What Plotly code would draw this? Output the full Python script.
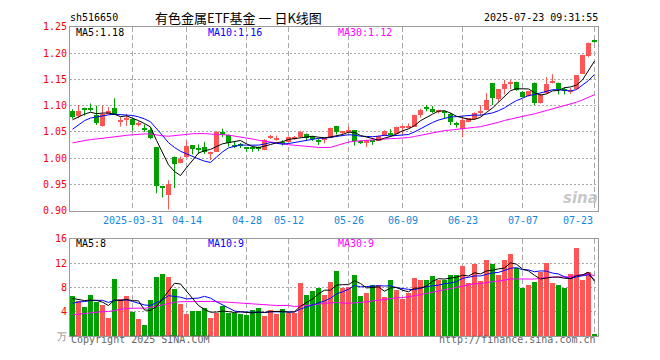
import numpy as np
import plotly.graph_objects as go

# ---------------- data ----------------
tick_idx = [10, 19, 29, 36, 46, 55, 65, 75, 87]
tick_labels = ["2025-03-31", "04-14", "04-28", "05-12", "05-26", "06-09", "06-23", "07-07", "07-23"]

opens = [1.090, 1.080, 1.0945, 1.0945, 1.082, 1.062, 1.085, 1.095, 1.0695, 1.0745,
         1.075, 1.064, 1.058, 1.054, 1.021, 0.9455, 0.931, 1.003, 0.992, 1.003,
         1.025, 1.0185, 1.021, 1.009, 1.0125, 1.0505, 1.044, 1.026, 1.0245, 1.020,
         1.019, 1.019, 1.016, 1.039, 1.035, 1.032, 1.031, 1.037, 1.041, 1.047,
         1.039, 1.035, 1.035, 1.0395, 1.0615, 1.049, 1.051, 1.0535, 1.032, 1.029,
         1.033, 1.0335, 1.0425, 1.049, 1.046, 1.0595, 1.058, 1.0597, 1.0825, 1.0955,
         1.0947, 1.0885, 1.0885, 1.085, 1.0655, 1.055, 1.070, 1.074, 1.088, 1.092,
         1.1425, 1.113, 1.1315, 1.142, 1.1455, 1.127, 1.118, 1.144, 1.1055, 1.124,
         1.145, 1.1425, 1.131, 1.128, 1.1315, 1.161, 1.195, 1.223]
highs = [1.093, 1.101, 1.096, 1.104, 1.100, 1.100, 1.097, 1.114, 1.078, 1.084,
         1.076, 1.070, 1.064, 1.057, 1.021, 0.9455, 0.958, 1.003, 1.003, 1.033,
         1.025, 1.026, 1.031, 1.012, 1.0515, 1.056, 1.045, 1.031, 1.029, 1.0205,
         1.022, 1.022, 1.036, 1.044, 1.043, 1.034, 1.041, 1.042, 1.052, 1.047,
         1.042, 1.037, 1.036, 1.058, 1.0615, 1.052, 1.060, 1.0535, 1.033, 1.035,
         1.034, 1.043, 1.053, 1.055, 1.060, 1.062, 1.066, 1.0825, 1.094, 1.101,
         1.099, 1.092, 1.090, 1.086, 1.069, 1.078, 1.076, 1.087, 1.101, 1.124,
         1.1425, 1.1315, 1.149, 1.149, 1.1455, 1.1275, 1.128, 1.144, 1.122, 1.154,
         1.160, 1.144, 1.135, 1.133, 1.158, 1.197, 1.220, 1.2255]
lows = [1.075, 1.076, 1.081, 1.089, 1.063, 1.060, 1.084, 1.082, 1.060, 1.0615,
        1.052, 1.060, 1.050, 1.036, 0.933, 0.925, 0.902, 0.943, 0.990, 1.001,
        1.007, 1.008, 1.008, 0.9965, 1.0125, 1.040, 1.022, 1.019, 1.019, 1.012,
        1.012, 1.013, 1.015, 1.0365, 1.033, 1.024, 1.030, 1.035, 1.040, 1.033,
        1.033, 1.025, 1.028, 1.039, 1.045, 1.044, 1.047, 1.024, 1.027, 1.021,
        1.025, 1.033, 1.042, 1.040, 1.045, 1.045, 1.057, 1.059, 1.077, 1.089,
        1.086, 1.085, 1.075, 1.0628, 1.058, 1.0395, 1.068, 1.073, 1.080, 1.091,
        1.101, 1.106, 1.121, 1.131, 1.128, 1.115, 1.117, 1.101, 1.104, 1.122,
        1.142, 1.121, 1.121, 1.122, 1.130, 1.160, 1.192, 1.2195]
closes = [1.078, 1.090, 1.0935, 1.0935, 1.068, 1.084, 1.090, 1.082, 1.0705, 1.0755,
          1.064, 1.065, 1.054, 1.038, 0.948, 0.9445, 0.952, 0.990, 0.9995, 1.023,
          1.018, 1.0175, 1.0125, 1.012, 1.0505, 1.0435, 1.029, 1.021, 1.0235, 1.019,
          1.018, 1.018, 1.034, 1.040, 1.036, 1.028, 1.040, 1.041, 1.051, 1.038,
          1.038, 1.031, 1.036, 1.058, 1.0505, 1.050, 1.052, 1.0335, 1.0295, 1.0345,
          1.032, 1.042, 1.0525, 1.0445, 1.0595, 1.0605, 1.0615, 1.0825, 1.092, 1.0945,
          1.088, 1.0895, 1.0875, 1.069, 1.0645, 1.073, 1.076, 1.086, 1.089, 1.111,
          1.115, 1.1315, 1.141, 1.143, 1.130, 1.117, 1.1275, 1.1045, 1.121, 1.141,
          1.146, 1.1315, 1.130, 1.129, 1.158, 1.196, 1.219, 1.222]
volumes = [6.56, 5.76, 4.8, 6.7, 5.6, 5.1, 3.0, 9.4, 6.2, 6.6,
           4.0, 2.9, 1.8, 5.9, 9.8, 10.2, 9.8, 7.8, 5.3, 3.7,
           4.2, 4.2, 4.6, 3.0, 3.8, 5.0, 3.8, 3.8, 3.7, 3.5,
           4.3, 4.6, 3.4, 4.3, 3.7, 4.5, 3.8, 3.8, 8.8, 6.7,
           7.5, 8.0, 6.8, 8.85, 10.8, 7.9, 8.05, 10.0, 6.6, 7.1,
           8.4, 8.4, 6.5, 9.2, 7.6, 6.1, 7.1, 9.5, 9.3, 9.3,
           9.9, 9.3, 9.2, 10.1, 10.0, 11.5, 8.7, 11.9, 9.1, 12.5,
           11.9, 10.0, 12.5, 13.5, 11.3, 7.9, 8.5, 8.85, 10.5, 12.05,
           8.7, 8.5, 7.9, 10.3, 14.45, 9.3, 10.6, 0.4]

# sessions before the first visible candle (only feed the moving averages)
prior_closes = [1.020, 1.028, 1.035, 1.040, 1.036, 1.040, 1.044, 1.038, 1.036, 1.030,
                1.033, 1.038, 1.040, 1.010, 0.990, 0.975, 0.968, 0.972, 0.970, 0.977,
                1.005, 1.015, 1.045, 1.045, 1.075, 1.060, 1.070, 1.075, 1.082]
prior_volumes = [2.2, 2.6, 2.4, 2.1, 2.5, 2.8, 2.3, 2.4, 2.5, 2.36,
                 2.5, 2.9, 2.6, 2.8, 3.0, 2.4, 2.7, 2.6, 2.9, 2.44,
                 3.5, 4.2, 5.0, 5.3, 5.0, 6.5, 5.8, 6.3, 5.84]

price_legend = ["MA5:1.18", "MA10:1.16", "MA30:1.12"]
vol_legend = ["MA5:8", "MA10:9", "MA30:9"]
price_ticks = [0.90, 0.95, 1.00, 1.05, 1.10, 1.15, 1.20, 1.25]
vol_ticks = [0, 4, 8, 12, 16]
vol_tick_text = ['<span style="color:#888888">万</span>', "4", "8", "12", "16"]

# ---------------- styles ----------------
W, H = 660, 360
RED, GREEN = "#ff5555", "#00a000"
MONO = "DejaVu Sans Mono"
GRID = "#a8a8a8"
FRAME = "#9a9a9a"

n = len(closes)
idx = np.arange(n)
o = np.array(opens); c = np.array(closes); hi = np.array(highs); lo = np.array(lows)
up = c >= o
colors = [RED if u else GREEN for u in up]


def ma(series, prior, k):
    arr = np.array(prior + series, dtype=float)
    m = np.convolve(arr, np.ones(k) / k, mode="valid")
    return m[-len(series):]


fig = go.Figure()

# candle bodies
base = np.minimum(o, c)
height = np.maximum(np.abs(c - o), 0.002)
fig.add_trace(go.Bar(x=idx, y=height, base=base, marker=dict(color=colors, line=dict(width=0)),
                     width=0.78, xaxis="x", yaxis="y", hoverinfo="skip"))
# wicks
for col, mask in ((RED, up), (GREEN, ~up)):
    xs, ys = [], []
    for i in idx[mask]:
        xs += [i, i, None]
        ys += [lo[i], hi[i], None]
    fig.add_trace(go.Scatter(x=xs, y=ys, mode="lines", line=dict(color=col, width=1),
                             xaxis="x", yaxis="y", hoverinfo="skip"))

# price moving averages
for k, col in ((30, "#ff00ff"), (10, "#0000ff"), (5, "#000000")):
    fig.add_trace(go.Scatter(x=idx, y=ma(closes, prior_closes, k), mode="lines",
                             line=dict(color=col, width=1), xaxis="x", yaxis="y", hoverinfo="skip"))

# volume bars
fig.add_trace(go.Bar(x=idx, y=volumes, marker=dict(color=colors, line=dict(width=0)),
                     width=0.78, xaxis="x2", yaxis="y2", hoverinfo="skip"))
for k, col in ((30, "#ff00ff"), (10, "#0000ff"), (5, "#000000")):
    fig.add_trace(go.Scatter(x=idx, y=ma(volumes, prior_volumes, k), mode="lines",
                             line=dict(color=col, width=1), xaxis="x2", yaxis="y2", hoverinfo="skip"))

xl, xr = 70, 598
x0 = 72.5
step = 6.0
xrange = [(xl - x0) / step, (xr - x0) / step]
xdom = [xl / W, xr / W]

common_x = dict(range=xrange, domain=xdom, tickvals=tick_idx, showticklabels=False,
                showgrid=True, gridcolor=GRID, griddash="5px,3px", gridwidth=1,
                showline=True, mirror=True, linecolor=FRAME, linewidth=1,
                zeroline=False, ticks="", fixedrange=True)

fig.update_layout(
    width=W, height=H, margin=dict(l=0, r=0, t=0, b=0),
    paper_bgcolor="white", plot_bgcolor="white", showlegend=False, bargap=0,
    xaxis=dict(anchor="y", **common_x),
    xaxis2=dict(anchor="y2", **common_x),
    yaxis=dict(domain=[1 - 211.7 / H, 1 - 21.5 / H], range=[0.90, 1.25], tickvals=price_ticks,
               ticktext=["%.2f" % v for v in price_ticks], tickfont=dict(family=MONO, size=10, color="#ff0000"),
               showgrid=True, gridcolor=GRID, griddash="2px,2px", showline=True, mirror=True,
               linecolor=FRAME, linewidth=1, zeroline=False, ticks="", anchor="x", fixedrange=True),
    yaxis2=dict(domain=[1 - 341.5 / H, 1 - 241 / H], range=[0, 16], tickvals=vol_ticks,
                ticktext=vol_tick_text, tickfont=dict(family=MONO, size=10, color="#ff0000"),
                showgrid=True, gridcolor=GRID, griddash="2px,2px", showline=True, mirror=True,
                linecolor=FRAME, linewidth=1, zeroline=False, ticks="", anchor="x2", fixedrange=True),
    font=dict(family=MONO, size=10, color="#000"),
)

ann = []


def txt(s, xpx, ypx, color="#000", size=10, anchor="left", family=MONO, **kw):
    ann.append(dict(text=s, x=xpx / W, y=1 - ypx / H, xref="paper", yref="paper",
                    xanchor=anchor, yanchor="middle", showarrow=False,
                    font=dict(family=family, size=size, color=color), **kw))


# header
txt("sh516650", 68, 12)
txt("有色金属ETF基金 一 日K线图", 238, 11.5, size=13, anchor="center", family="Noto Sans CJK SC")
txt("2025-07-23 09:31:55", 600, 12, anchor="right")

# legends
for s, xp, col in zip(price_legend, (74, 206, 336), ("#000000", "#0000ff", "#ff00ff")):
    txt(s, xp, 27, color=col)
for s, xp, col in zip(vol_legend, (74, 206, 336), ("#000000", "#0000ff", "#ff00ff")):
    txt(s, xp, 246, color=col)

# date labels
for i, lab in zip(tick_idx, tick_labels):
    xp = x0 + i * step
    if i == tick_idx[-1]:
        txt(lab, xp, 222, color="#1188dd", anchor="right")
    else:
        txt(lab, xp, 222, color="#1188dd", anchor="center")

# footer
txt("Copyright 2025 SINA.COM", 69, 345.5, color="#666666")
txt("http://finance.sina.com.cn", 598, 345.5, color="#666666", anchor="right")

# watermark
txt("<b><i>sina</i></b>", 580, 199, color="rgba(185,185,185,0.8)", size=15, anchor="center",
    family="DejaVu Sans")

fig.update_layout(annotations=ann)
fig.write_html("out.html", config={"displayModeBar": False},
               post_script="document.body.style.margin='0';document.body.style.overflow='hidden';")
